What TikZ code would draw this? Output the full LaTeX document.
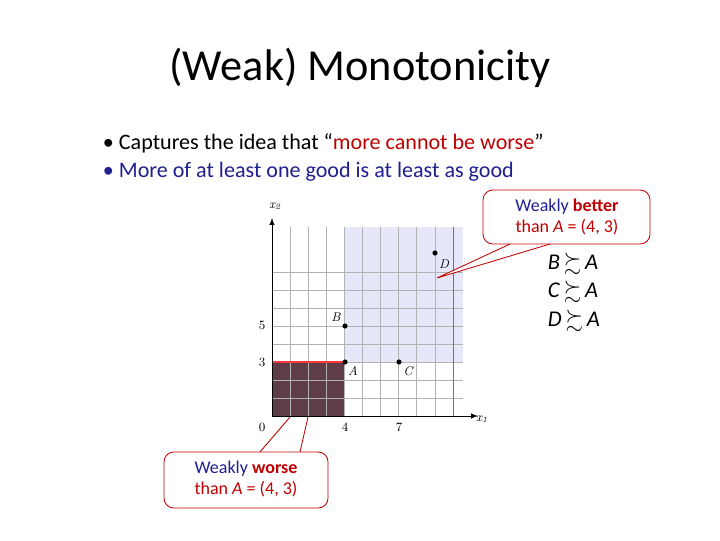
\documentclass[tikz,border=0pt]{standalone}
\usepackage{amssymb}
\usepackage{fontspec}
\setmainfont{Carlito}
\newfontfamily\lmr{Latin Modern Roman}
\definecolor{dred}{HTML}{C00000}
\definecolor{dblue}{HTML}{1F1F8F}
\definecolor{darkregion}{HTML}{5E3D48}
\definecolor{lblue}{HTML}{E6E8FA}
\begin{document}
\begin{tikzpicture}[x=0.025cm,y=-0.025cm,
  gl/.style={gray!60,line width=0.5pt},
  pt/.style={circle,fill=black,inner sep=1.3pt},
  lab/.style={font=\lmr\itshape\small},
  tick/.style={font=\lmr\small},
  callout/.style={draw=dred,fill=white,rounded corners=7pt,line width=0.6pt},
  rel/.style={font=\fontsize{16}{18}\selectfont,anchor=west}]
\useasboundingbox (0,0) rectangle (720,540);
\node (title) at (360,68) {\fontsize{31.5}{36}\selectfont (Weak) Monotonicity};
\node[anchor=west,font=\fontsize{15.7}{18}\selectfont] (b1) at (98,143) {• Captures the idea that “\textcolor{dred}{more cannot be worse}”};
\node[anchor=west,font=\fontsize{15.7}{18}\selectfont,text=dblue] (b2) at (98,172) {• More of at least one good is at least as good};
% plot
\fill[lblue] (345,227) rectangle (463,362);
\fill[darkregion] (272,362) rectangle (345,416);
\foreach \i in {1,...,9} \draw[gl] (272+18.1*\i,227) -- (272+18.1*\i,416);
\foreach \j in {1,...,8} \draw[gl] (272,416-18*\j) -- (463,416-18*\j);
\draw[gray!90!black,line width=0.6pt] (453,227) -- (453,416);
\draw[red!70!pink,line width=0.8pt] (272,362) -- (345,362);
\draw[-latex,line width=0.7pt] (272,416) -- (478,416);
\draw[-latex,line width=0.7pt] (272,416) -- (272,218);
\node[lab] (x2) at (275,206) {x\textsubscript{2}};
\node[lab] (x1) at (482,419) {x\textsubscript{1}};
\node[tick] (t0) at (262,427) {0};
\node[tick] (t4) at (345,427) {4};
\node[tick] (t7) at (399,427) {7};
\node[tick] (t5) at (262,325) {5};
\node[tick] (t3) at (262,362) {3};
\node[pt] (A) at (345,362) {};
\node[pt] (B) at (345,326) {};
\node[pt] (C) at (399,362) {};
\node[pt] (D) at (435,253) {};
\node[lab] (la) at (353,371) {A};
\node[lab] (lb) at (336,317) {B};
\node[lab] (lc) at (408,371) {C};
\node[lab] (ld) at (444,264) {D};
% top callout
\coordinate (tp) at (437,278);
\draw[callout] (483,190) rectangle (650,244);
\fill[white] (tp) -- (510,244.8) -- (550,244.8) -- cycle;
\draw[dred,line width=0.6pt] (510,244) -- (tp) -- (550,244);
\node[align=center,font=\fontsize{12.8}{15.5}\selectfont] (wb) at (567,217) {\textcolor{dblue}{Weakly} \textcolor{dred}{\textbf{better}}\\\textcolor{dred}{than \textit{A} = (4, 3)}};
% bottom callout
\coordinate (bp1) at (290,417);
\coordinate (bp2) at (308,417);
\draw[callout] (164,452) rectangle (328,508);
\fill[white] (260,451.2) -- (bp1) -- (bp2) -- (300,451.2) -- cycle;
\draw[dred,line width=0.6pt] (260,452) -- (bp1);
\draw[dred,line width=0.6pt] (300,452) -- (bp2);
\node[align=center,font=\fontsize{12.8}{15.5}\selectfont] (ww) at (246,479) {\textcolor{dblue}{Weakly} \textcolor{dred}{\textbf{worse}}\\\textcolor{dred}{than \textit{A} = (4, 3)}};
% relations
\node[rel] (r1) at (543,264) {\textit{B}\,$\succsim$\,\textit{A}};
\node[rel] (r2) at (543,292) {\textit{C}\,$\succsim$\,\textit{A}};
\node[rel] (r3) at (543,321) {\textit{D}\,$\succsim$\,\textit{A}};
\end{tikzpicture}
\end{document}
